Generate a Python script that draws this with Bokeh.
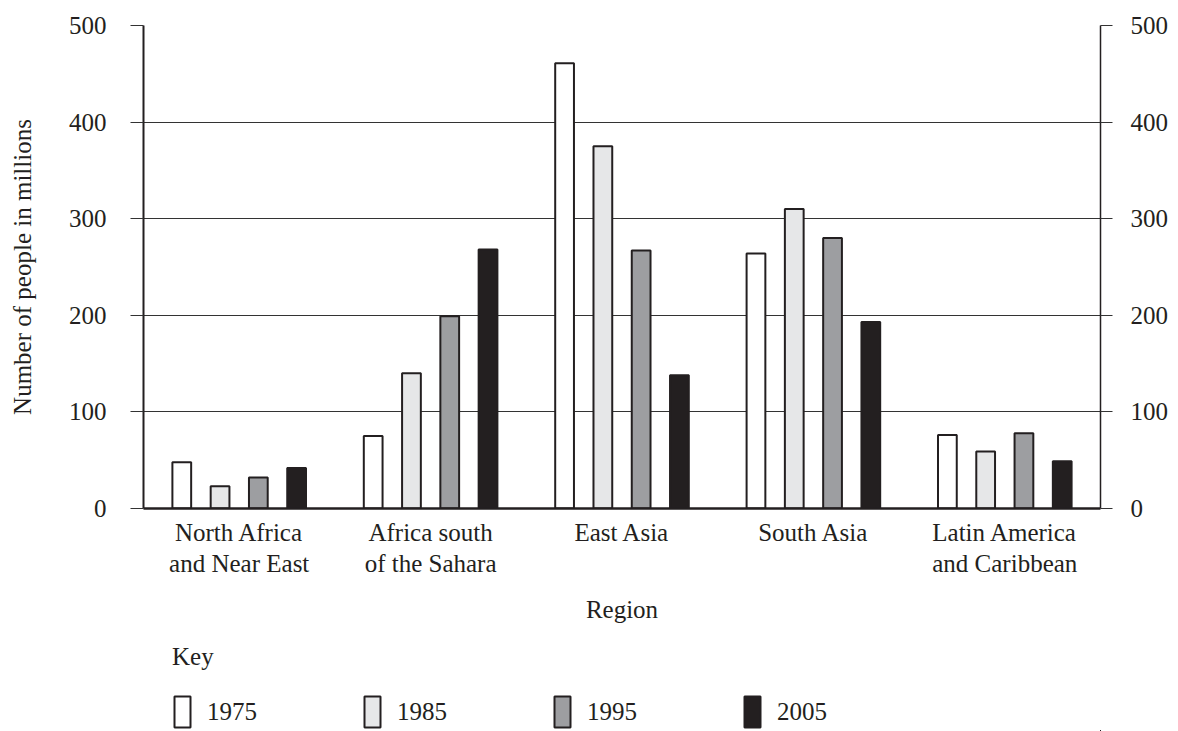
from bokeh.plotting import figure
from bokeh.layouts import column
from bokeh.models import (FactorRange, Range1d, LinearAxis, FixedTicker, Legend,
                          LegendItem, ColumnDataSource)
from bokeh.transform import dodge
from bokeh.embed import file_html
from bokeh.resources import INLINE

regions = ["North Africa\nand Near East", "Africa south\nof the Sahara", "East Asia",
           "South Asia", "Latin America\nand Caribbean"]
years = ["1975", "1985", "1995", "2005"]
v1975 = [48, 75, 461, 264, 76]
v1985 = [23, 140, 375, 310, 59]
v1995 = [32, 199, 267, 280, 78]
v2005 = [42, 268, 138, 193, 49]
y_ticks = [0, 100, 200, 300, 400, 500]

fills = ["#ffffff", "#e6e7e8", "#9d9ea1", "#231f20"]
offsets = [-0.3, -0.1, 0.1, 0.3]
INK = "#231f20"
FONT = "Liberation Serif"
FS = "25px"

source = ColumnDataSource(dict(region=regions, y1975=v1975, y1985=v1985,
                               y1995=v1995, y2005=v2005))

p = figure(x_range=FactorRange(factors=regions), y_range=Range1d(0, 500),
           width=1178, height=628, output_backend="svg", toolbar_location=None,
           min_border_left=143, min_border_right=78, min_border_top=25,
           min_border_bottom=120)
p.outline_line_color = None
p.xgrid.grid_line_color = None
p.ygrid.grid_line_color = "#333333"
p.ygrid.grid_line_width = 1
p.ygrid.ticker = FixedTicker(ticks=y_ticks)

for yr, fill, off in zip(years, fills, offsets):
    p.vbar(x=dodge("region", off, range=p.x_range), top="y" + yr, bottom=0,
           width=0.098, source=source, fill_color=fill, line_color=INK,
           line_width=2)

# x axis
xa = p.xaxis[0]
xa.axis_line_width = 2.5
xa.axis_line_color = INK
xa.major_tick_line_color = None
xa.minor_tick_line_color = None
xa.major_tick_out = 0
xa.major_tick_in = 0
xa.major_label_standoff = 10
xa.major_label_text_font = FONT
xa.major_label_text_font_size = FS
xa.major_label_text_color = INK
xa.major_label_text_line_height = 1.15
xa.axis_label = "Region"
xa.axis_label_text_font = FONT
xa.axis_label_text_font_size = FS
xa.axis_label_text_font_style = "normal"
xa.axis_label_text_color = INK
xa.axis_label_standoff = 16

def style_y(ax, lw, tick_out, standoff):
    ax.ticker = FixedTicker(ticks=y_ticks)
    ax.axis_line_width = lw
    ax.axis_line_color = INK
    ax.major_tick_line_color = "#333333"
    ax.major_tick_line_width = 1
    ax.major_tick_out = tick_out
    ax.major_tick_in = 0
    ax.minor_tick_line_color = None
    ax.major_label_standoff = standoff
    ax.major_label_text_font = FONT
    ax.major_label_text_font_size = FS
    ax.major_label_text_color = INK

ya = p.yaxis[0]
style_y(ya, 2, 13, 24)
ya.axis_label = "Number of people in millions"
ya.axis_label_text_font = FONT
ya.axis_label_text_font_size = FS
ya.axis_label_text_font_style = "normal"
ya.axis_label_text_color = INK
ya.axis_label_standoff = 30

ra = LinearAxis()
style_y(ra, 1.5, 12, 18)
p.add_layout(ra, "right")

# key panel below the chart: its bars are placed outside its visible ranges,
# so only the key (legend) is seen
k = figure(width=1178, height=103, x_range=FactorRange(factors=regions),
           y_range=Range1d(1999, 2000), x_axis_type=None, y_axis_type=None,
           output_backend="svg", toolbar_location=None, min_border=0)
k.outline_line_color = None
key_renderers = []
for yr, fill, off in zip(years, fills, offsets):
    kr = k.vbar(x=dodge("region", off + 20, range=k.x_range), top="y" + yr, bottom=0,
                width=0.098, source=source, fill_color=fill, line_color=INK,
                line_width=2)
    key_renderers.append(kr)

legend = Legend(items=[LegendItem(label=yr, renderers=[r]) for yr, r in zip(years, key_renderers)],
                orientation="horizontal", location=(29, 0),
                title="Key", title_text_font=FONT, title_text_font_size=FS,
                title_text_font_style="normal", title_text_color=INK, title_standoff=21,
                label_text_font=FONT, label_text_font_size=FS, label_text_color=INK,
                glyph_width=20, glyph_height=39, label_standoff=15, label_width=155,
                spacing=0, padding=0, margin=0, border_line_color=None,
                background_fill_alpha=0)
k.add_layout(legend)

layout = column(p, k, spacing=0)
open("out.html", "w").write(file_html(layout, INLINE))
